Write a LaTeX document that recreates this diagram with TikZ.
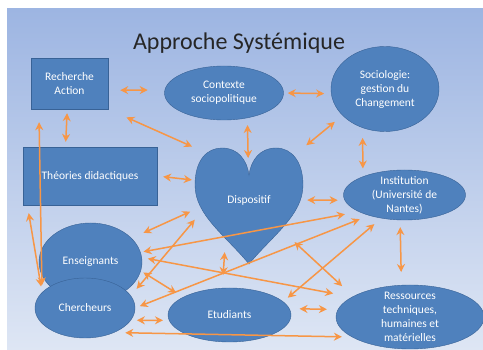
\documentclass[tikz,border=0pt]{standalone}
\usepackage{fontspec}
\setmainfont{Carlito}
\usetikzlibrary{shapes.geometric}
\usetikzlibrary{arrows.meta}
\definecolor{slidetop}{RGB}{157,181,226}
\definecolor{slidebot}{RGB}{222,230,244}
\definecolor{nodeblue}{RGB}{79,129,189}
\definecolor{nodeline}{RGB}{56,98,150}
\definecolor{linkorange}{RGB}{247,150,70}

\begin{document}
\begin{tikzpicture}[x=1pt,y=-1pt,>={Stealth[length=8pt,width=8pt]},
  every edge/.style={draw=linkorange,line width=1.5pt,<->},
  box/.style={draw=nodeline,fill=nodeblue,text=white,align=center,font=\fontsize{11.5}{14}\selectfont},
  bubble/.style={box,ellipse,inner sep=-6pt}]
\useasboundingbox (0,0) rectangle (483,350);
\shade[top color=slidetop,bottom color=slidebot] (7,9) rectangle (483,350);
\node[font=\fontsize{24}{28}\selectfont,text=black!85,anchor=base] (title) at (239,50) {Approche Systémique};

% blocs
\node[box,minimum width=77pt,minimum height=51pt] (ra) at (69.5,83.5) {Recherche\\Action};
\node[bubble,minimum width=119pt,minimum height=54pt] (ctx) at (224,93) {Contexte\\sociopolitique};
\node[bubble,minimum width=108pt,minimum height=85pt] (soc) at (385,89) {Sociologie:\\gestion du\\Changement};
\node[box,minimum width=134pt,minimum height=58pt] (th) at (90,176) {Théories didactiques};
\node[bubble,minimum width=122pt,minimum height=50pt] (inst) at (404.5,195) {Institution\\(Université de\\Nantes)};
\node[bubble,minimum width=103pt,minimum height=78pt] (ens) at (90.5,262) {Enseignants};
\node[bubble,minimum width=100pt,minimum height=60pt] (cher) at (85,308) {Chercheurs};
\node[bubble,minimum width=123pt,minimum height=54pt] (etu) at (229.5,315) {Etudiants};
\node[bubble,minimum width=148pt,minimum height=64pt] (res) at (410,317) {Ressources\\techniques,\\humaines et\\matérielles};

% coeur
\draw[draw=nodeline,fill=nodeblue] (249,264) .. controls (225,235) and (195,215) .. (195,185)
  .. controls (195,160) and (207,148) .. (222,148)
  .. controls (238,148) and (247,160) .. (249,175)
  .. controls (251,160) and (260,148) .. (276,148)
  .. controls (292,148) and (303,162) .. (303,185)
  .. controls (303,215) and (273,235) .. (249,264) -- cycle;
\node[text=white,font=\fontsize{11.5}{14}\selectfont,minimum width=108pt,minimum height=104pt] (disp) at (249,200) {Dispositif};

% liens
\path (ra.-10) edge[shorten <=12pt,shorten >=17pt] (ctx.177);
\path (ctx.0) edge[shorten <=4pt,shorten >=7pt] (soc.185);
\path (ra.-95) edge[shorten <=4pt,shorten >=5pt] (th.130);
\path (ra.south east) edge[shorten <=20pt,shorten >=3pt] (disp.north west);
\path (ctx.-47) edge[shorten <=7pt,shorten >=42pt] (disp.center);
\path (disp.north east) edge[shorten <=4pt,shorten >=10pt] (soc.212);
\path (soc.240) edge[shorten <=10pt,shorten >=8pt] (inst.156);
\path (ra.220) edge[shorten <=13pt,shorten >=7pt] (cher.160);
\path (th.205) edge[shorten <=8pt,shorten >=6pt] (cher.160);
\path (th.east) edge[shorten <=6pt,shorten >=3pt] (disp.160);
\path (disp.east) edge[shorten <=4pt,shorten >=7pt] (inst.185);
\path (disp.190) edge[shorten <=5pt,shorten >=13pt] (ens.30);
\path (disp.200) edge[shorten >=9pt] (cher.15);
\path (inst.200) edge[shorten <=14pt,shorten >=3pt] (ens.11);
\path (inst.210) edge[shorten <=10pt,shorten >=5pt] (cher.east);
\path (inst.225) edge[shorten <=9pt,shorten >=6pt] (etu.14);
\path (disp.-115) edge[shorten >=13pt] (etu.105);
\path (ens.5) edge[shorten <=6pt,shorten >=19pt] (res.161);
\path (disp.center) edge[shorten <=62pt,shorten >=15pt] (res.160);
\path (ens.-10) edge[shorten <=3pt,shorten >=8pt] (etu.159);
\path (cher.-15) edge[shorten <=6pt,shorten >=6pt] (etu.185);
\path (etu.6) edge[shorten <=10pt,shorten >=11pt] (res.174);
\path (cher.-40) edge[shorten <=11pt,shorten >=10pt] (res.199);
\path (inst.-100) edge[shorten <=7pt,shorten >=13pt] (res.105);
\end{tikzpicture}
\end{document}
